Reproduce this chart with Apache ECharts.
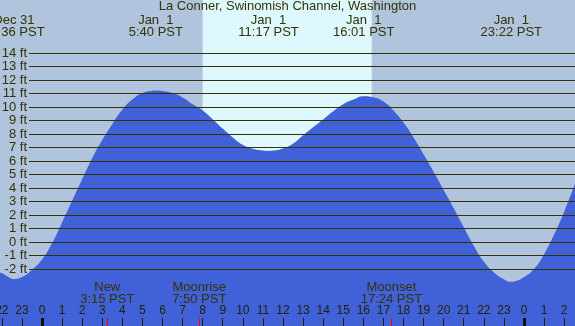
<!DOCTYPE html>
<html>
<head>
<meta charset="utf-8">
</head>
<body style="margin: 0; background: #b0c4de">
<div id="main" style="width: 575px; height: 326px"></div>
<script src="https://cdn.jsdelivr.net/npm/echarts@6/dist/echarts.min.js"></script>
<script>
// hours from Jan 1 00:00 PST, heights in ft (every half hour + the turning points)
var tideHours = [-2.09, -2, -1.5, -1.4, -1, -0.5, 0, 0.5, 1, 1.5, 2, 2.5, 3, 3.5, 4, 4.5, 5, 5.5, 5.67,
    6, 6.5, 7, 7.5, 8, 8.5, 9, 9.5, 10, 10.5, 11, 11.28, 11.5, 12, 12.5, 13, 13.5, 14, 14.5, 15, 15.5, 16.02,
    16.5, 17, 17.5, 18, 18.5, 19, 19.5, 20, 20.5, 21, 21.5, 22, 22.5, 23, 23.37, 23.5, 24, 24.5, 25, 25.5, 26,
    26.5, 26.54];
var tideFeet = [-2.25, -2.3, -2.72, -2.75, -2.6, -2.07, -1.3, -0.1, 1.45, 3.05, 4.65, 6.2, 7.55, 8.75, 9.8, 10.55, 11.03, 11.2, 11.22,
    11.18, 11.03, 10.7, 10.2, 9.75, 9.1, 8.4, 7.75, 7.2, 6.9, 6.77, 6.75, 6.77, 6.93, 7.27, 7.9, 8.5, 9.08, 9.68, 10.2, 10.55, 10.8,
    10.72, 10.4, 9.75, 8.85, 7.75, 6.5, 5.2, 3.85, 2.5, 1.1, -0.27, -1.45, -2.25, -2.75, -2.95, -2.93, -2.6, -2.0, -0.9, 0.55, 2.25,
    4.15, 4.3];

var eventHours = [-1.4, 5.67, 11.28, 16.02, 23.37];
var eventDays = ['Dec 31', 'Jan  1', 'Jan  1', 'Jan  1', 'Jan  1'];
var eventClock = ['22:36 PST', '5:40 PST', '11:17 PST', '16:01 PST', '23:22 PST'];

var moonHours = [3.25, 7.83, 17.4];
var moonNames = ['New', 'Moonrise', 'Moonset'];
var moonClock = ['3:15 PST', '7:50 PST', '17:24 PST'];

var sunrise = 8.0;
var sunset = 16.42;

var hourTicks = [-2, -1, 0, 1, 2, 3, 4, 5, 6, 7, 8, 9, 10, 11, 12, 13, 14, 15, 16, 17, 18, 19, 20, 21, 22, 23, 24, 25, 26];
var midnights = [0, 24];

var xMin = -2.09, xMax = 26.54;
var ftMin = -2, ftMax = 14;

// grid of the ft lines: 53px..269px, 13.5 px per ft
var lineTop = 53, lineH = 216, H = 326;
var pxPerFt = lineH / (ftMax - ftMin);
var yMin = ftMin - (H - lineTop - lineH) / pxPerFt;
var yMax = ftMax + lineTop / pxPerFt;

var ink = '#333300';
var family = '"Liberation Sans", Arial, sans-serif';
var font = '13px ' + family;

var chart = echarts.init(document.getElementById('main'));

var tideData = tideHours.map(function (h, i) { return [h, tideFeet[i]]; });

function tickAxis(values, color, width, labels) {
    return {
        type: 'value', gridIndex: 0, min: xMin, max: xMax, position: 'bottom', z: 10,
        splitLine: { show: false },
        axisLine: { show: false, onZero: false },
        axisTick: { show: true, inside: true, length: 8, customValues: values, lineStyle: { color: color, width: width } },
        axisLabel: labels ? {
            show: true, inside: true, margin: 9, customValues: values, hideOverlap: false,
            color: '#222200', fontSize: 12, fontFamily: family,
            formatter: function (v) { return String(((Math.round(v) % 24) + 24) % 24); }
        } : { show: false }
    };
}

chart.setOption({
    backgroundColor: '#b0c4de',
    animation: false,
    title: {
        text: 'La Conner, Swinomish Channel, Washington',
        left: 'center',
        top: 0,
        padding: 0,
        textStyle: { color: ink, fontSize: 13, fontWeight: 'normal', fontFamily: family }
    },
    grid: [
        { left: 0, right: 0, top: 0, bottom: 0, outerBoundsMode: 'none' },
        { left: 29, right: 0, top: lineTop, height: lineH, outerBoundsMode: 'none' }
    ],
    xAxis: [
        tickAxis(hourTicks, '#222200', 1, true),
        tickAxis(midnights, '#111100', 3, false),
        tickAxis(moonHours, '#ff0000', 1, false),
        { type: 'value', gridIndex: 1, min: xMin, max: xMax, show: false }
    ],
    yAxis: [
        { type: 'value', gridIndex: 0, min: yMin, max: yMax, show: false },
        {
            type: 'value', gridIndex: 1, min: ftMin, max: ftMax, interval: 1, z: 10,
            axisLine: { show: false }, axisTick: { show: false },
            splitLine: { show: true, lineStyle: { color: ink, width: 1 } },
            axisLabel: { margin: 2, color: ink, fontSize: 13, fontFamily: family, formatter: '{value} ft' }
        }
    ],
    series: [
        {
            type: 'line', xAxisIndex: 0, yAxisIndex: 0, data: [], z: 1,
            markArea: {
                silent: true,
                itemStyle: { color: '#ddf8ff' },
                data: [[{ xAxis: sunrise }, { xAxis: sunset }]]
            }
        },
        {
            type: 'line', xAxisIndex: 0, yAxisIndex: 0, z: 3,
            data: tideData,
            smooth: 0.5,
            symbol: 'none',
            lineStyle: { width: 0 },
            areaStyle: { color: '#4161d9', opacity: 1, origin: 'start' }
        }
    ]
});

var graphics = [];
function addText(x, y, txt) {
    graphics.push({
        type: 'text', z: 20,
        style: { text: txt, x: x, y: y, fill: ink, font: font, textAlign: 'center', textVerticalAlign: 'middle' }
    });
}
eventHours.forEach(function (h, i) {
    var x = chart.convertToPixel({ xAxisIndex: 0 }, h);
    addText(x, 20, eventDays[i]);
    addText(x, 32, eventClock[i]);
});
moonHours.forEach(function (h, i) {
    var x = chart.convertToPixel({ xAxisIndex: 0 }, h);
    addText(x, 287, moonNames[i]);
    addText(x, 299, moonClock[i]);
});
chart.setOption({ graphic: graphics });
</script>
</body>
</html>
